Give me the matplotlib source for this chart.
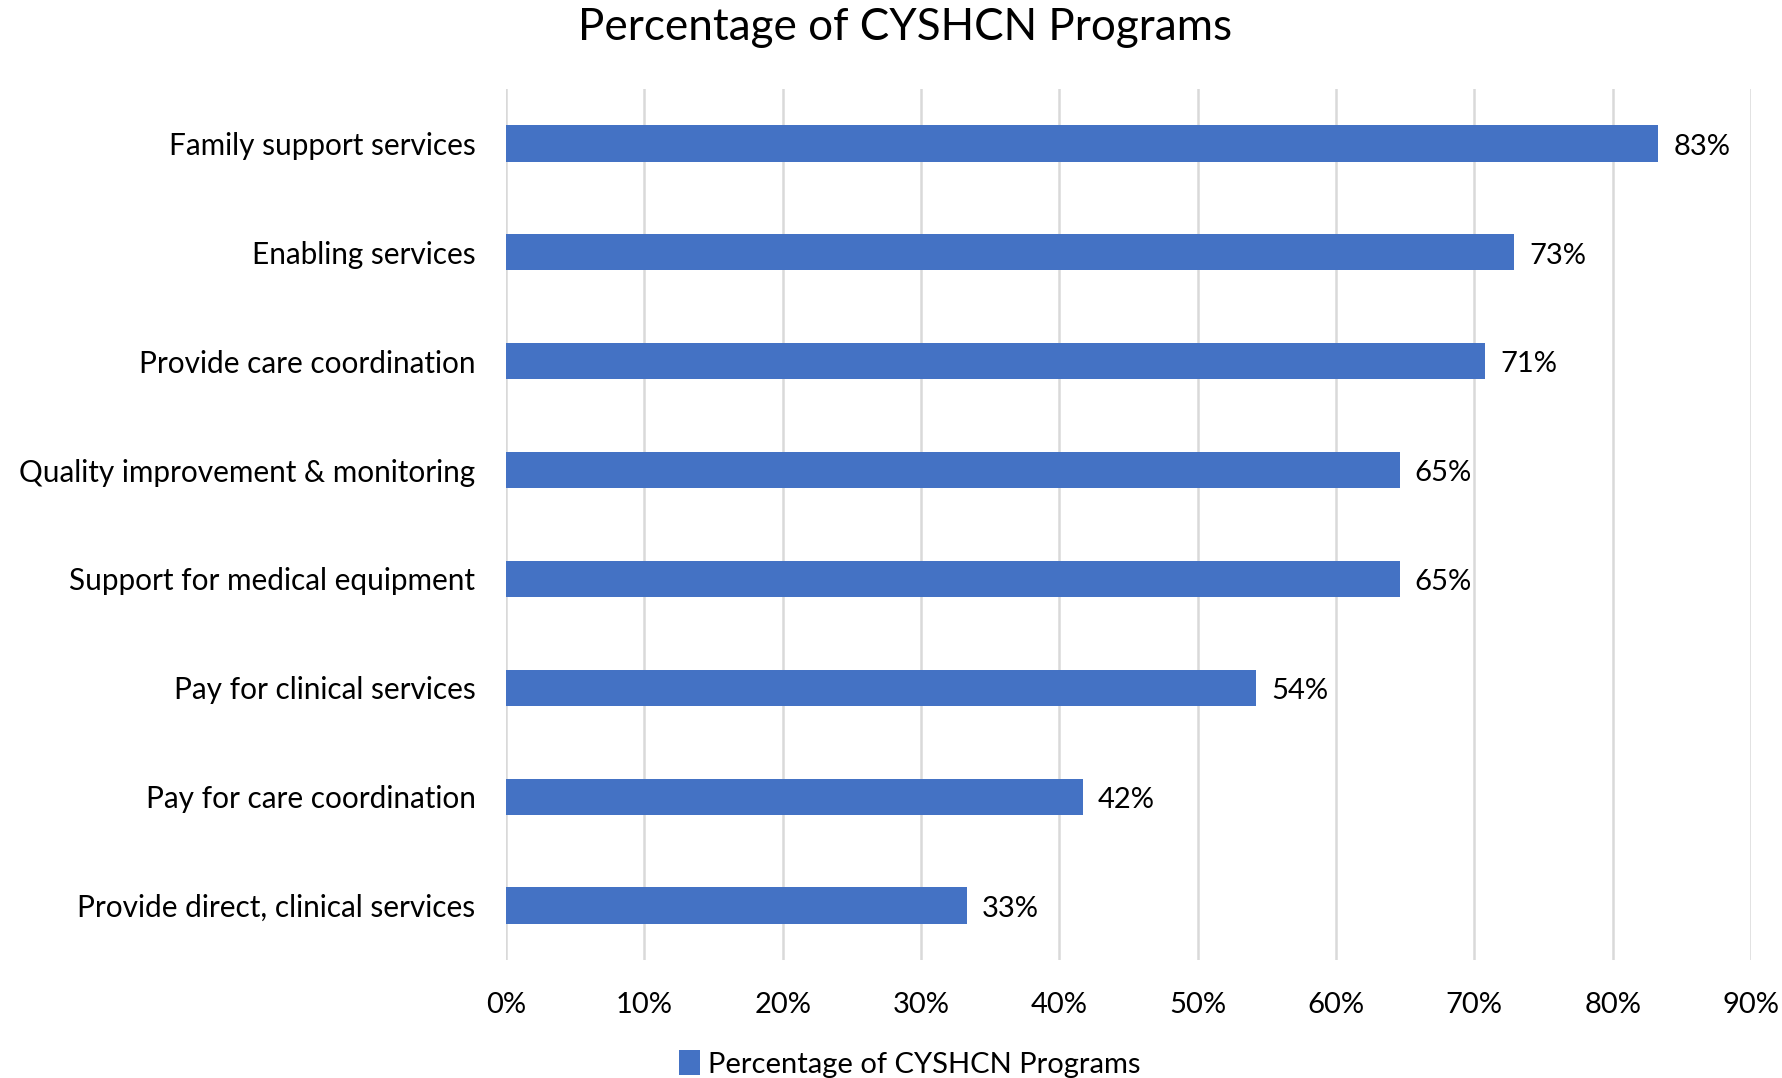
import matplotlib
matplotlib.use("Agg")
import matplotlib.pyplot as plt
from matplotlib.ticker import FuncFormatter

categories = ["Family support services", "Enabling services", "Provide care coordination",
              "Quality improvement & monitoring", "Support for medical equipment",
              "Pay for clinical services", "Pay for care coordination",
              "Provide direct, clinical services"]
values = [83.3, 72.9, 70.8, 64.6, 64.6, 54.2, 41.7, 33.3]
xticks = [0, 10, 20, 30, 40, 50, 60, 70, 80, 90]
series_name = "Percentage of CYSHCN Programs"
title = "Percentage of CYSHCN Programs"

plt.rcParams['font.family'] = ['Lato', 'DejaVu Sans']
fig = plt.figure(figsize=(17.83, 10.78), dpi=100)
ax = fig.add_axes([506/1783, 1-960/1078, (1751-506)/1783, (960-89)/1078])

ypos = list(range(len(categories)))[::-1]
color = "#4472C4"
bars = ax.barh(ypos, values, height=0.333, color=color, label=series_name, zorder=3)
for y, v in zip(ypos, values):
    ax.text(v + 1.1, y - 0.03, f"{round(v):.0f}%", va='center', ha='left', fontsize=21, color='black')

ax.set_xlim(0, 90)
ax.set_ylim(-0.5, 7.5)
ax.set_xticks(xticks)
ax.xaxis.set_major_formatter(FuncFormatter(lambda x, p: f"{x:.0f}%"))
ax.set_yticks(ypos)
ax.set_yticklabels(categories, fontsize=21.4)
ax.tick_params(axis='x', labelsize=21, length=0, pad=23)
ax.tick_params(axis='y', length=0, pad=22)
ax.grid(axis='x', color='#D9D9D9', linewidth=1.8, zorder=0)
for s in ax.spines.values():
    s.set_visible(False)

fig.text(905/1783, 1-27/1078, title, ha='center', va='center', fontsize=31.7)
fig.legend(handles=[bars], labels=[series_name], loc='center', bbox_to_anchor=(910/1783, 1-1064/1078),
           frameon=False, fontsize=21, handlelength=0.7, handleheight=0.9, handletextpad=0.3)
fig.savefig("out.png", dpi=100, facecolor='white')
